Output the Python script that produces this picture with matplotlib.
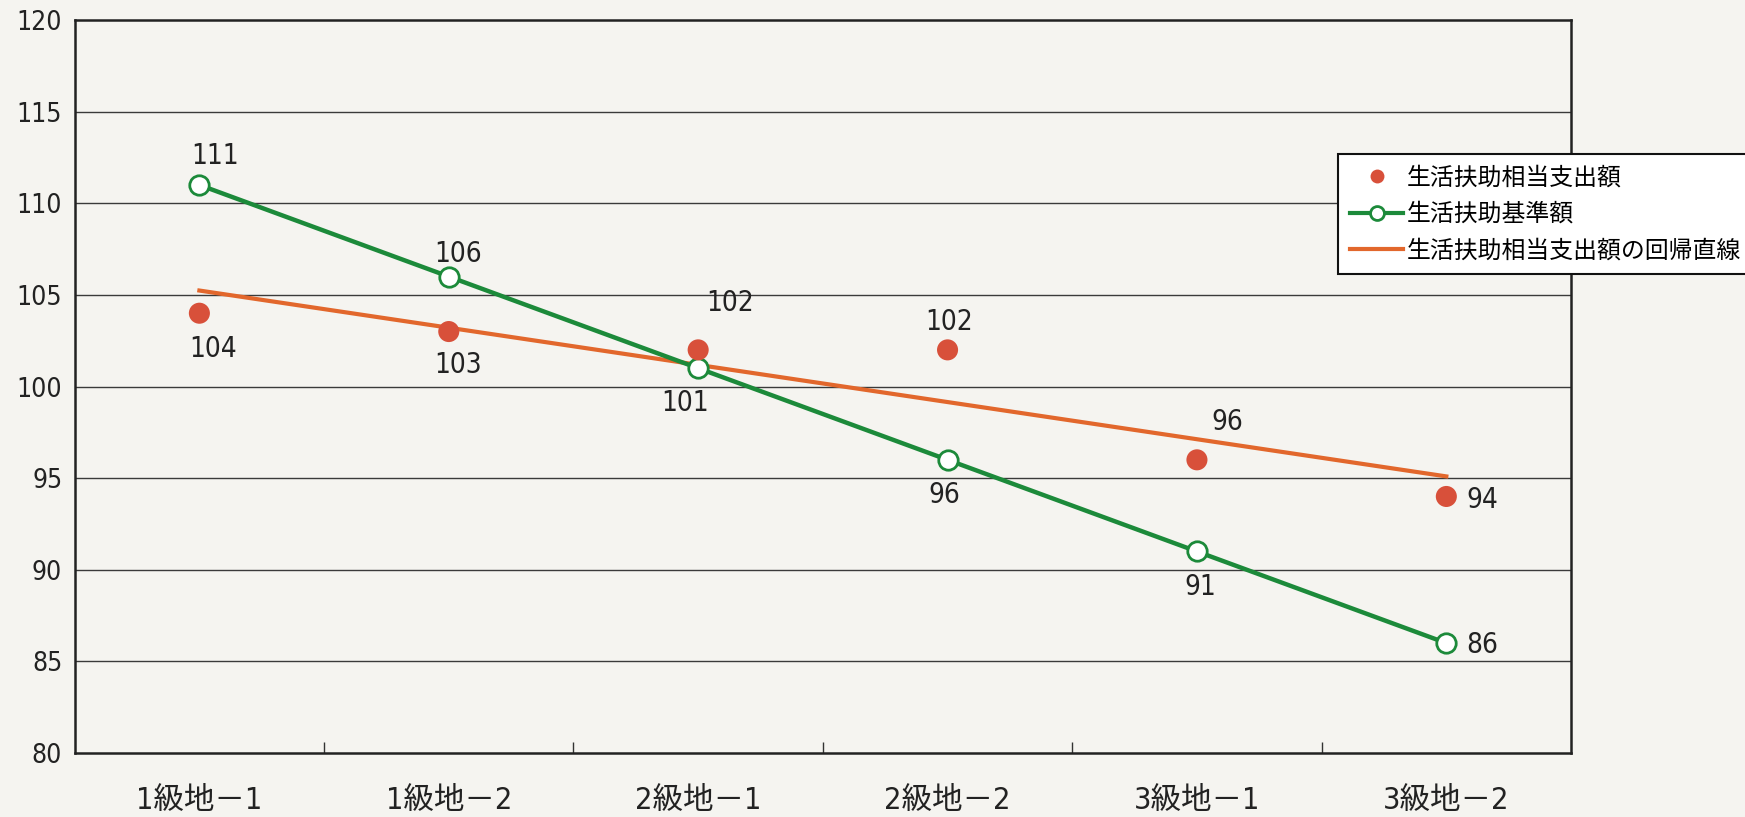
#!/usr/bin/env python3
# plot.py
# 級地別 生活扶助相当支出額 と 生活扶助基準額

import numpy as np
import matplotlib
matplotlib.use("Agg")
import matplotlib.pyplot as plt
from matplotlib.lines import Line2D

plt.rcParams['font.family'] = ['DejaVu Sans', 'Noto Sans CJK JP']
plt.rcParams['font.stretch'] = 'condensed'

categories = ["1級地－1", "1級地－2", "2級地－1", "2級地－2", "3級地－1", "3級地－2"]
spending = [104, 103, 102, 102, 96, 94]      # 生活扶助相当支出額
standard = [111, 106, 101, 96, 91, 86]       # 生活扶助基準額
yticks = [80, 85, 90, 95, 100, 105, 110, 115, 120]

labels = ["生活扶助相当支出額", "生活扶助基準額", "生活扶助相当支出額の回帰直線"]

# label offsets in pixels (dx, dy)
spend_off = [(14, -36), (9, -33), (32, 47), (2, 28), (30, 38), (36, -4)]
std_off = [(16, 29), (9, 23), (-13, -35), (-3, -35), (3, -36), (36, -2)]

green = "#1c8a3a"
red = "#d8503a"
orange = "#e2672c"
paper = "#f5f4f0"

x = np.arange(len(categories))
slope, icept = np.polyfit(x, spending, 1)
reg = icept + slope * x

fig = plt.figure(figsize=(17.45, 8.17), dpi=100, facecolor=paper)
ax = fig.add_axes([0.0428, 0.0783, 0.8575, 0.8972])
ax.set_facecolor(paper)

for y in yticks[1:-1]:
    ax.axhline(y, color="#3a3a3a", lw=1.0, zorder=1)

ax.plot(x, reg, color=orange, lw=3, zorder=2)
ax.plot(x, standard, color=green, lw=3.2, marker="o", ms=14, mfc="white",
        mec=green, mew=2, zorder=3)
ax.scatter(x, spending, s=230, color=red, zorder=4, edgecolors="none")

for i in range(len(x)):
    ax.annotate(str(spending[i]), (x[i], spending[i]), xytext=spend_off[i],
                textcoords="offset pixels", ha="center", va="center",
                fontsize=20, color="#222222")
    ax.annotate(str(standard[i]), (x[i], standard[i]), xytext=std_off[i],
                textcoords="offset pixels", ha="center", va="center",
                fontsize=20, color="#222222")

ax.set_xlim(-0.5, 5.5)
ax.set_ylim(80, 120)
ax.set_yticks(yticks)
ax.set_yticklabels([str(v) for v in yticks], fontsize=19, color="#222222")
ax.tick_params(axis="y", length=0, pad=9)
ax.set_xticks(x)
ax.set_xticklabels(categories, fontsize=22, color="#222222")
ax.tick_params(axis="x", length=0, pad=24)
ax.set_xticks(np.arange(0.5, 5.0, 1.0), minor=True)
ax.tick_params(axis="x", which="minor", direction="in", length=8, width=1, color="#333333")
for s in ax.spines.values():
    s.set_linewidth(1.8)
    s.set_color("#222222")

handles = [
    Line2D([], [], ls="none", marker="o", ms=10, color=red, mec="none"),
    Line2D([], [], color=green, lw=3, marker="o", ms=10, mfc="white", mec=green, mew=2),
    Line2D([], [], color=orange, lw=3),
]
leg = fig.legend(handles, labels, loc="upper left", bbox_to_anchor=(0.767, 0.812),
                 fontsize=17.2, frameon=True, fancybox=False, edgecolor="#111111",
                 framealpha=1, facecolor="white", handlelength=2.2,
                 handletextpad=0.15, borderpad=0.5, labelspacing=0.52,
                 borderaxespad=0)
leg.get_frame().set_linewidth(1.5)

fig.savefig("out.png", dpi=100, facecolor=paper)
